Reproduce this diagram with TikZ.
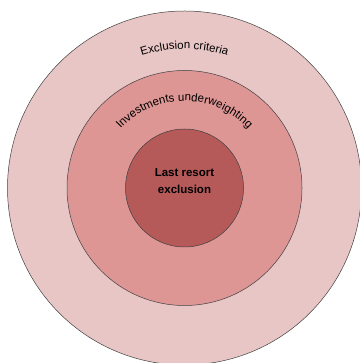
\documentclass[tikz,border=0pt]{standalone}
\usepackage{fontspec}
\setmainfont{Liberation Sans}
\usetikzlibrary{decorations.text}
\definecolor{ringouter}{RGB}{232,198,197}
\definecolor{ringmid}{RGB}{222,150,149}
\definecolor{ringcore}{RGB}{181,89,89}
\tikzset{
  ring/.style={circle, draw=black!75, line width=0.5pt, inner sep=0pt},
  arclabel/.style={decorate, decoration={text along path, text align=center, text={#1}}}
}
\begin{document}
\begin{tikzpicture}[x=1pt,y=1pt]
\useasboundingbox (0,0) rectangle (359,363);
\coordinate (c) at (184.5,175);

\node[ring, fill=ringouter, minimum size=354] (outer) at (c) {};
\node[ring, fill=ringmid, minimum size=235] (mid) at (c) {};
\node[ring, fill=ringcore, minimum size=118] (core) at (c) {};

\path[arclabel={|\fontsize{11.5}{14}\selectfont|Exclusion criteria}]
  (c) ++(150:139) arc[start angle=150, end angle=30, radius=139];
\path[arclabel={|\fontsize{11.5}{14}\selectfont|Investments underweighting}]
  (c) ++(170:87) arc[start angle=170, end angle=10, radius=87];

\node[font=\fontsize{11.5}{17}\selectfont\bfseries, align=center] (last) at (184.5,182) {Last resort\\exclusion};
\end{tikzpicture}
\end{document}
